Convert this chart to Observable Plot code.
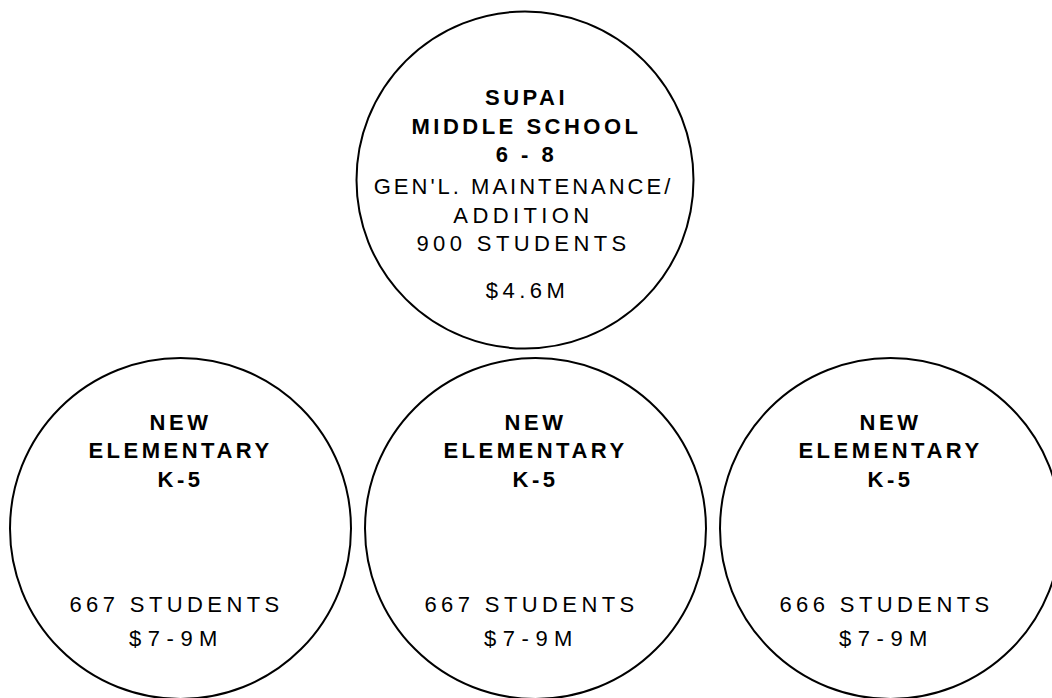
<!DOCTYPE html>
<html>
<head>
<meta charset="utf-8">
<script src="https://cdn.jsdelivr.net/npm/d3@7"></script>
<script src="https://cdn.jsdelivr.net/npm/@observablehq/plot@0.6"></script>
<style>
  html, body { margin: 0; padding: 0; background: #fff; overflow: hidden; }
  #chart svg { display: block; }
  .hd text, .hd tspan { letter-spacing: 3.5px; }
  .bd text, .bd tspan { letter-spacing: 4.4px; }
  .bd text tspan:nth-child(1) { letter-spacing: 3px; }
  .ct text { letter-spacing: 4.5px; }
  .ct2 text { letter-spacing: 6.5px; }
</style>
</head>
<body>
<div id="chart"></div>
<script>
// ---- data ----
const names    = ["SUPAI\nMIDDLE SCHOOL", "NEW\nELEMENTARY", "NEW\nELEMENTARY", "NEW\nELEMENTARY"];
const grades   = ["6 - 8", "K-5", "K-5", "K-5"];
const scopes   = ["GEN'L. MAINTENANCE/\nADDITION", "", "", ""];
const students = [900, 667, 667, 666];
const costs    = ["$4.6M", "$7-9M", "$7-9M", "$7-9M"];
const tiers    = [0, 1, 1, 1];   // row of the diagram
const slots    = [1, 0, 1, 2];   // column of the diagram

const schools = names.map((n, i) => ({
  heading: n + "\n" + grades[i],
  body: (scopes[i] ? scopes[i] + "\n" : "") + students[i] + " STUDENTS",
  cost: costs[i],
  tier: tiers[i],
  slot: slots[i]
}));
const upperRow = schools.filter(d => d.tier === 0);
const lowerRow = schools.filter(d => d.tier === 1);

const font = "Liberation Sans, Arial, Helvetica, sans-serif";
const txt = {x: "slot", y: "tier", fontFamily: font, fontSize: 22, lineHeight: 1.286, lineAnchor: "top", fill: "black"};

const chart = Plot.plot({
  width: 1052,
  height: 698,
  margin: 0,
  x: {domain: [0, 2], range: [180, 890], axis: null},
  y: {domain: [0, 1], range: [179.5, 528], axis: null},
  marks: [
    Plot.dot(upperRow, {x: "slot", y: "tier", r: 168.5, dx: -10.5, stroke: "black", strokeWidth: 2, fill: "none"}),
    Plot.dot(lowerRow, {x: "slot", y: "tier", r: 170.5, stroke: "black", strokeWidth: 2, fill: "none"}),
    // headings
    Plot.text(upperRow, {...txt, text: "heading", fontWeight: "bold", dx: -9, dy: -94.6, className: "hd"}),
    Plot.text(lowerRow, {...txt, text: "heading", fontWeight: "bold", dy: -118.5, className: "hd"}),
    // body
    Plot.text(upperRow, {...txt, text: "body", dx: -12, dy: -5.6, className: "bd"}),
    Plot.text(lowerRow, {...txt, text: "body", dx: -4, dy: 63.5, className: "bd"}),
    // cost
    Plot.text(upperRow, {...txt, text: "cost", dx: -8, dy: 98.4, className: "ct"}),
    Plot.text(lowerRow, {...txt, text: "cost", dx: -4, dy: 97.5, className: "ct2"})
  ]
});
document.getElementById("chart").append(chart);
</script>
</body>
</html>
